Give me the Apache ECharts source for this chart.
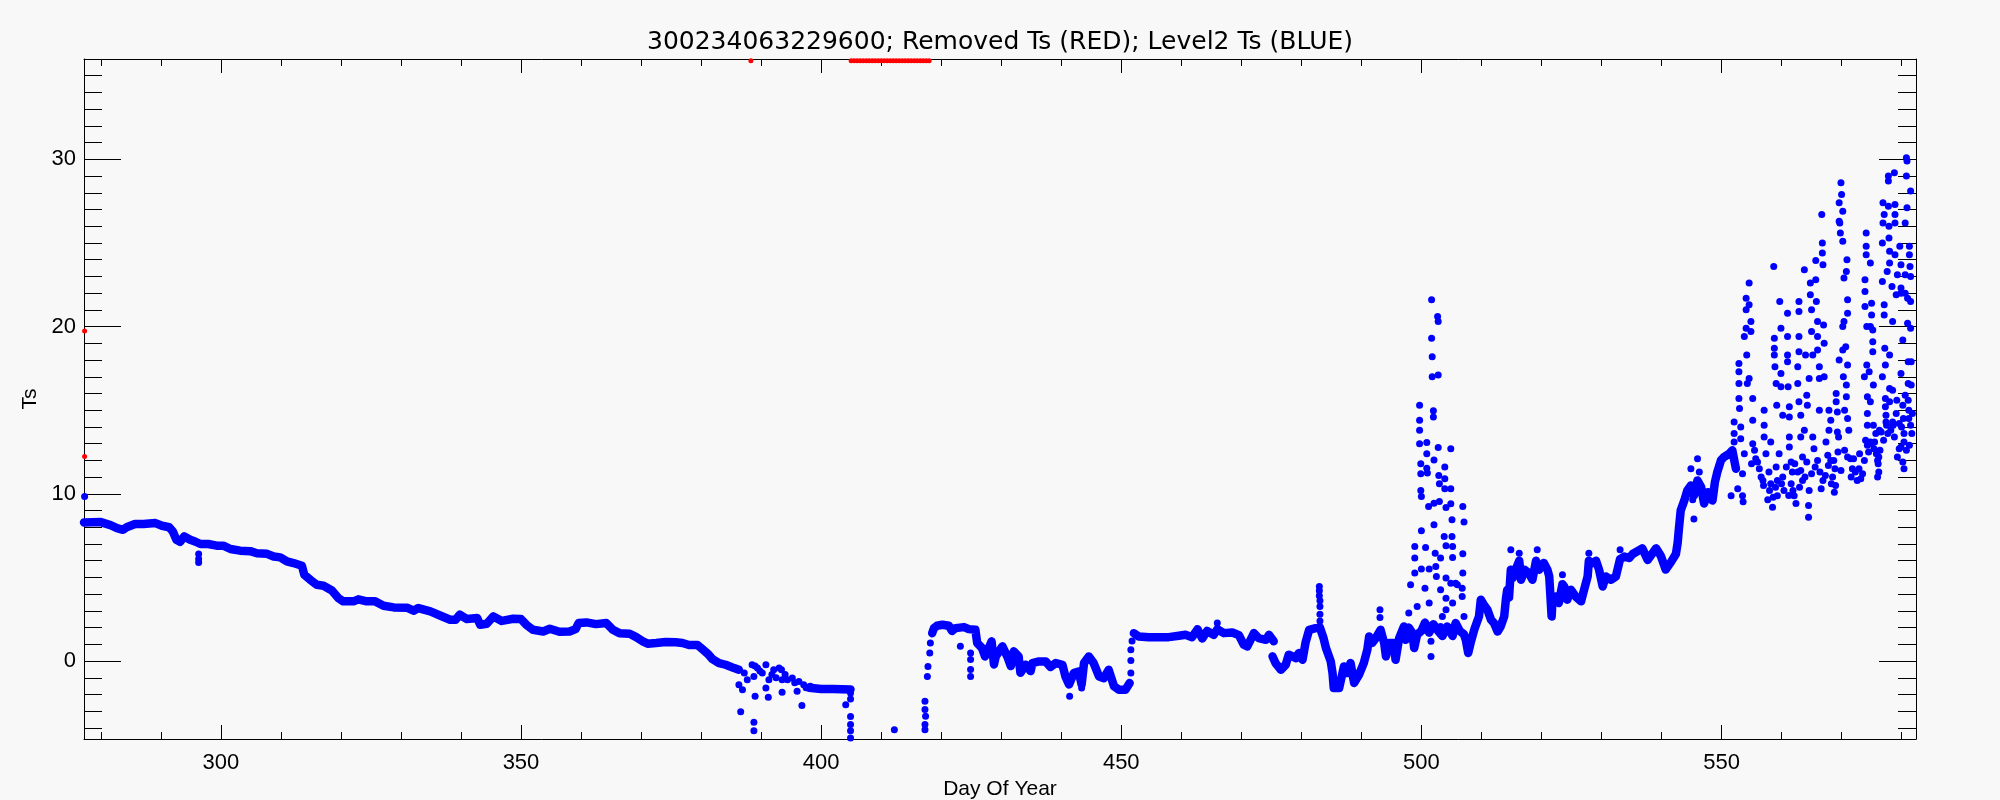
<!DOCTYPE html>
<html>
<head>
<meta charset="utf-8">
<script src="https://cdn.jsdelivr.net/npm/echarts@6/dist/echarts.min.js"></script>
<style>
html,body{margin:0;padding:0;background:#f8f8f8;}
#chart{width:2000px;height:800px;}
</style>
</head>
<body>
<div id="chart"></div>
<script>
// ---------------- DATA ----------------
const titleText = '300234063229600; Removed Ts (RED); Level2 Ts (BLUE)';
const xName = 'Day Of Year';
const yName = 'Ts';
const xMin = 277.2, xMax = 582.4;
const yMin = -4.66, yMax = 36;
const xMajorTicks = [300, 350, 400, 450, 500, 550];
const xMinorTicks = [280, 290, 300, 310, 320, 330, 340, 350, 360, 370, 380, 390, 400, 410, 420, 430, 440, 450, 460, 470, 480, 490, 500, 510, 520, 530, 540, 550, 560, 570, 580];
const yMajorTicks = [0, 10, 20, 30];
const yMinorTicks = [-4, -3, -2, -1, 0, 1, 2, 3, 4, 5, 6, 7, 8, 9, 10, 11, 12, 13, 14, 15, 16, 17, 18, 19, 20, 21, 22, 23, 24, 25, 26, 27, 28, 29, 30, 31, 32, 33, 34, 35, 36];

// dense Level2 trace, [day, Ts]
const traceSegment1 = [[277.2,8.29],[280.0,8.31],[281.6,8.13],[282.7,7.95],[283.7,7.85],[284.3,8.0],[285.7,8.2],[287.1,8.2],[289.1,8.25],[290.2,8.09],[291.4,8.0],[292.0,7.75],[292.6,7.25],[293.2,7.13],[293.9,7.45],[294.9,7.25],[295.7,7.15],[296.6,7.0],[297.9,7.0],[299.3,6.9],[300.4,6.9],[301.6,6.7],[303.2,6.6],[304.9,6.57],[306.0,6.45],[307.7,6.41],[308.8,6.25],[309.9,6.2],[311.0,5.96],[312.1,5.86],[313.5,5.7],[313.9,5.16],[314.9,4.86],[316.0,4.56],[317.1,4.5],[318.5,4.22],[319.6,3.76],[320.4,3.57],[322.1,3.57],[322.9,3.69],[324.3,3.57],[325.7,3.57],[327.1,3.31],[328.8,3.21],[331.0,3.19],[332.1,3.01],[332.9,3.17],[334.9,2.97],[336.6,2.71],[338.2,2.47],[339.1,2.47],[339.8,2.77],[341.0,2.51],[342.7,2.57],[343.2,2.17],[344.3,2.23],[345.4,2.67],[346.8,2.4],[348.7,2.53],[350.0,2.51],[350.9,2.17],[352.0,1.87],[353.7,1.77],[354.8,1.93],[356.4,1.75],[358.1,1.77],[359.1,1.91],[359.6,2.27],[360.9,2.31],[362.5,2.21],[364.2,2.27],[365.3,1.87],[366.4,1.67],[368.1,1.63],[369.2,1.43],[370.3,1.18],[371.1,1.04],[372.5,1.08],[374.1,1.14],[375.8,1.12],[376.9,1.08],[378.0,0.96],[379.4,0.96],[380.2,0.72],[381.1,0.44],[381.9,0.12],[383.0,-0.12],[384.1,-0.22],[385.5,-0.42],[386.3,-0.52]];
const traceSegment2 = [[398.0,-1.6],[400.0,-1.67],[402.0,-1.67],[404.9,-1.7]];
const traceSegment3 = [[418.5,1.67],[418.8,1.97],[419.3,2.11],[420.2,2.17],[421.3,2.11],[421.8,1.8],[422.4,1.97],[423.8,2.03],[424.6,1.91],[425.7,1.87],[426.0,1.08],[426.8,0.78],[427.3,0.28],[427.7,0.58],[428.4,1.18],[428.8,-0.2],[429.1,0.28],[430.2,0.88],[431.0,0.28],[431.6,-0.3],[432.1,0.58],[432.9,0.28],[433.2,-0.7],[434.1,-0.22],[434.9,-0.6],[435.2,-0.12],[436.3,-0.02],[437.4,-0.02],[438.2,-0.35],[439.1,-0.12],[440.2,-0.22],[440.7,-0.92],[441.3,-1.4],[442.1,-0.72],[442.9,-0.62],[443.4,-1.4],[443.8,-0.12],[444.6,0.28],[445.4,-0.12],[446.3,-0.92],[447.1,-1.02],[447.9,-0.52],[448.8,-1.51],[449.6,-1.71],[450.7,-1.71],[451.4,-1.31]];
const traceSegment4 = [[452.1,1.67],[452.9,1.47],[454.6,1.43],[456.3,1.43],[457.9,1.43],[459.6,1.51],[460.7,1.57],[461.8,1.43],[462.7,1.9],[463.5,1.35],[464.3,1.8],[465.4,1.57],[466.0,1.9],[467.1,1.67],[468.5,1.71],[469.6,1.55],[470.4,0.98],[471.0,0.88],[472.1,1.67],[472.9,1.37],[474.1,1.27],[474.6,1.57],[475.4,1.18]];
const traceSegment5 = [[475.2,0.28],[475.7,-0.12],[476.6,-0.52],[477.4,-0.22],[477.9,0.38],[479.1,0.18],[479.6,0.48],[480.2,0.08],[480.7,1.1],[481.3,1.87],[482.4,1.97],[483.1,2.0],[483.7,1.37],[484.1,0.78],[484.9,-0.02],[485.2,-0.72],[485.4,-1.61],[486.3,-1.61],[487.1,-0.32],[487.7,-0.72],[488.2,-0.12],[488.8,-1.31],[489.6,-0.82],[490.4,-0.12],[491.0,0.68],[491.3,1.47],[491.8,1.08],[492.4,1.37],[493.2,1.87],[493.8,1.08],[494.1,0.28],[494.6,1.08],[495.4,1.08],[495.7,0.08],[496.3,1.37],[497.1,2.07],[497.4,1.27],[497.9,2.0],[498.5,1.67],[498.8,0.78],[499.3,1.6],[500.0,1.8],[500.6,2.3],[501.3,1.7],[502.0,2.2],[502.8,1.8],[503.5,1.5],[504.3,2.07],[505.2,1.5],[505.7,2.27],[506.4,1.8],[507.1,1.6],[507.4,1.27],[507.8,0.48],[508.2,1.08],[508.8,1.87],[509.6,2.67],[509.9,3.67],[510.4,3.37],[511.0,3.07],[511.6,2.47],[512.1,2.27],[512.7,1.77],[513.2,2.07],[513.8,2.67],[514.1,3.76],[514.3,4.26],[514.6,3.8],[514.9,5.46],[515.2,4.96],[515.7,5.46],[516.3,6.0],[516.6,4.86],[517.2,5.46],[517.9,5.26],[518.5,4.86],[519.1,6.0],[519.6,5.46],[520.4,5.86],[521.0,5.46],[521.3,5.06],[521.7,2.67],[521.8,3.37],[522.4,3.86],[522.9,3.47],[523.5,4.6],[523.8,4.46],[524.3,3.67],[524.9,4.26],[525.7,3.86],[526.6,3.57],[527.1,4.26],[527.7,5.06],[527.9,6.0],[528.5,5.86],[529.1,6.0],[529.6,5.46],[530.2,4.46],[530.7,5.06],[531.6,4.86],[532.4,5.06],[533.1,6.1],[533.8,6.25],[534.6,6.16],[535.2,6.4],[536.8,6.74],[537.7,6.05],[539.1,6.74],[539.9,6.28],[540.7,5.47],[541.6,5.93],[542.4,6.4],[542.7,7.09],[542.9,7.9],[543.2,9.0],[543.8,9.6],[544.3,10.2],[544.9,10.5],[545.4,9.9],[546.0,10.8],[546.6,10.4],[547.1,9.42],[547.7,10.1],[548.5,9.6],[548.9,10.7],[549.3,11.3],[549.9,12.0],[550.4,12.2],[551.3,12.4],[551.8,12.6],[552.4,11.5]];

// scattered Level2 points, [day, Ts]
const level2Early = [[277.3,9.84],[296.3,6.4],[296.3,6.1],[296.3,5.9],
 [386.3,-1.41],[386.9,-1.71],[387.2,-0.72],[387.7,-1.12],[388.5,-0.22],[388.8,-0.92],[389.0,-0.3],[389.4,-0.42],[389.8,-0.6],[390.2,-0.72],[390.8,-0.22],[390.8,-1.61],[391.3,-1.12],[391.8,-0.8],[392.1,-0.52],[392.5,-1.0],[393.0,-0.42],[393.4,-0.52],[393.5,-1.12],[393.5,-1.87],[394.0,-0.8],[394.4,-1.12],[395.2,-1.02],[395.6,-1.3],[396.0,-1.81],[396.3,-1.22],[396.8,-2.65],[397.1,-1.41],[397.5,-1.6],[398.2,-1.51],
 [386.6,-3.03],[388.8,-3.66],[388.8,-4.16],[389.0,-2.11],[391.2,-2.17],
 [404.9,-1.91],[404.9,-2.27],[404.1,-2.61],[404.9,-3.31],[404.9,-3.80],[404.9,-4.16],[404.9,-4.6],[412.2,-4.1],
 [417.3,-2.41],[417.3,-2.9],[417.4,-3.3],[417.3,-3.8],[417.3,-4.1],[417.7,-0.92],[417.8,-0.32],[418.1,0.48],[418.2,1.08],
 [423.2,0.88],[424.9,0.48],[424.9,0.1],[424.9,-0.5],[424.9,-0.92],[441.4,-2.11],[443.4,-1.61],[451.6,-0.72],[451.6,0.04],[451.6,0.68],[451.8,1.2],[466.0,2.27],
 [483.0,4.46],[483.0,4.2],[483.0,3.9],[483.1,3.6],[483.1,3.27],[483.1,2.8],[483.1,2.4],[493.1,3.07],[493.1,2.6]];
const level2Spike = [[497.9,2.87],[498.2,4.56],[498.9,6.16],[498.9,5.26],[498.9,6.85],[499.3,3.27],[499.7,15.3],[499.7,14.4],[499.7,13.8],[499.7,13.0],[499.9,11.8],[499.9,11.2],[499.9,10.2],[500.0,9.84],[500.0,7.79],[500.0,5.5],[500.6,4.36],[500.7,6.79],[500.9,13.07],[500.9,12.39],[500.9,11.53],[501.0,11.24],[501.2,9.24],[501.3,5.5],[501.3,3.47],[501.6,0.28],[501.6,1.18],[501.7,21.6],[501.7,19.3],[501.8,18.2],[501.8,17.0],[502.0,14.96],[502.0,14.6],[502.1,12.03],[502.1,9.44],[502.1,8.15],[502.3,6.45],[502.4,5.66],[502.5,5.06],[502.7,20.6],[502.8,20.3],[502.8,17.1],[502.8,12.77],[502.9,11.1],[503.0,10.6],[503.0,9.54],[503.2,6.16],[503.2,4.26],[503.2,2.07],[503.5,2.67],[503.8,7.45],[503.9,11.6],[503.9,10.9],[503.9,10.3],[504.1,9.18],[504.1,6.89],[504.1,4.96],[504.1,3.76],[504.1,3.07],[504.9,12.7],[504.9,10.3],[504.9,9.4],[505.1,8.45],[505.1,7.45],[505.2,6.85],[505.2,6.2],[504.9,4.66],[505.2,3.47],[505.7,4.66],[506.0,4.56],[505.7,2.27],[506.8,4.36],[506.8,3.86],[506.9,5.26],[506.9,6.41],[506.9,9.24],[507.1,8.31],[507.1,2.67],
 [514.9,6.65],[516.3,6.45],[519.3,6.65],[523.5,5.16],[527.9,6.45],[533.1,6.65],
 [544.9,11.5],[545.2,9.65],[545.4,8.49],[546.0,12.1],[546.3,11.3],[548.2,10.0],[551.6,9.88]];
const level2Late = [[552.1,14.3],[552.1,13.6],[552.1,13.1],[552.7,10.3],[552.9,17.8],[552.9,17.3],[552.9,16.6],[552.9,15.7],[553.0,15.1],[553.2,14.0],[553.2,13.3],[553.5,9.88],[553.5,11.2],[553.6,9.53],[553.8,19.4],[553.8,12.4],[554.1,21.7],[554.1,21.0],[554.1,19.9],[554.2,18.3],[554.3,16.6],[554.6,22.6],[554.6,21.3],[554.6,16.9],[554.9,20.3],[554.9,19.7],[555.2,15.7],[555.2,14.4],[555.2,13.0],[555.7,12.1],[556.3,11.5],[556.9,10.8],[557.1,15.0],[557.1,14.1],[557.1,13.4],[557.4,12.4],[557.7,9.65],[557.9,11.3],[558.2,13.1],[558.2,10.6],[558.5,9.19],[558.7,23.6],[558.8,19.3],[558.8,18.7],[558.8,18.3],[558.9,17.6],[559.1,16.6],[559.2,15.3],[559.1,11.6],[559.3,10.8],[559.3,9.88],[559.6,12.4],[559.7,21.5],[559.9,19.9],[559.9,17.2],[559.9,16.4],[560.2,14.7],[560.2,11.0],[560.4,10.2],[561.0,20.8],[561.0,19.4],[561.0,18.3],[561.0,17.9],[561.1,16.4],[561.3,15.2],[561.3,14.6],[561.3,13.4],[561.3,12.8],[561.6,11.9],[561.6,10.6],[561.8,11.3],[562.1,9.88],[562.4,9.42],[562.7,11.3],[562.7,17.6],[562.7,16.6],[562.9,21.5],[562.9,20.9],[562.9,19.4],[562.9,18.5],[562.9,15.5],[563.2,14.7],[563.2,13.4],[563.2,11.4],[563.5,12.2],[563.5,10.8],[563.8,23.4],[563.8,13.8],[564.0,18.3],[564.2,15.9],[564.3,15.3],[564.6,10.2],[564.5,9.3],[564.5,8.6],[564.6,16.9],[564.8,22.6],[564.8,21.9],[565.0,21.0],[565.0,19.7],[565.2,18.3],[565.2,13.4],[565.4,12.7],[565.7,22.8],[565.7,23.95],[565.8,21.5],[566.0,20.3],[566.0,19.4],[566.0,18.6],[566.3,17.6],[566.3,16.9],[566.3,15.0],[566.4,11.3],[566.6,10.3],[566.7,26.7],[566.8,25.0],[566.8,24.4],[566.9,23.7],[567.0,20.1],[567.1,19.0],[567.1,17.0],[567.4,13.1],[567.7,12.3],[567.9,15.0],[567.9,13.8],[568.2,14.4],[568.2,12.0],[568.5,11.0],[568.8,10.1],[568.9,11.5],[569.1,16.0],[569.1,15.5],[569.3,14.9],[569.3,13.7],[569.5,13.4],[569.6,18.0],[569.6,26.3],[569.6,27.4],[569.7,26.2],[569.8,25.6],[569.9,28.6],[570.0,27.9],[570.2,26.9],[570.2,25.1],[570.2,20.0],[570.2,18.6],[570.3,17.0],[570.4,22.9],[570.4,20.3],[570.5,15.0],[570.7,18.8],[570.8,23.3],[570.9,24.0],[570.8,16.5],[570.8,15.8],[571.0,21.6],[571.0,20.8],[571.0,17.7],[571.0,14.5],[571.2,13.8],[571.5,12.1],[571.8,11.5],[572.3,11.3],[572.9,11.5],[573.2,10.9],[573.8,12.0],[573.8,17.0],[573.9,22.8],[573.9,22.1],[573.9,21.2],[574.1,25.6],[574.1,24.8],[574.1,24.3],[574.2,20.0],[574.2,17.7],[574.3,15.8],[574.3,14.8],[574.3,14.1],[574.3,12.9],[574.6,17.3],[574.8,23.8],[574.8,20.0],[574.8,15.5],[574.8,13.1],[575.0,21.4],[575.0,20.7],[575.2,19.8],[575.2,19.1],[575.2,18.5],[575.3,16.5],[575.3,14.1],[575.4,12.7],[575.7,13.6],[576.0,12.0],[576.2,11.3],[576.3,13.8],[576.6,13.7],[576.8,17.0],[576.8,25.0],[576.8,22.7],[576.9,27.4],[576.9,26.2],[577.1,26.7],[577.1,21.3],[577.1,20.7],[577.2,18.7],[577.3,17.7],[577.3,15.7],[577.3,15.2],[577.4,14.7],[577.4,14.3],[577.5,14.1],[577.6,23.3],[577.8,28.7],[577.8,29.0],[577.8,27.2],[577.9,26.0],[577.9,25.3],[578.0,24.5],[578.0,23.8],[578.0,18.3],[578.0,16.3],[578.0,15.5],[578.4,22.4],[578.5,20.3],[578.5,16.2],[578.5,14.3],[578.6,14.1],[578.8,29.2],[578.9,27.3],[578.9,26.7],[578.9,26.2],[578.9,24.3],[579.1,21.9],[579.1,14.8],[579.2,15.6],[579.3,23.1],[579.6,12.7],[579.6,14.2],[579.7,24.8],[579.9,23.7],[579.9,22.3],[579.9,22.0],[579.9,17.2],[580.2,19.2],[580.2,15.3],[580.2,11.9],[580.3,14.5],[580.4,13.1],[580.4,11.5],[580.4,13.6],[580.6,15.9],[580.6,26.2],[580.6,23.1],[580.6,22.0],[580.8,29.0],[580.8,30.1],[580.9,29.9],[580.9,27.1],[581.0,21.7],[581.0,20.2],[581.1,17.9],[581.1,16.6],[581.1,15.6],[581.2,15.0],[581.2,14.5],[581.3,24.8],[581.3,24.3],[581.4,23.6],[581.5,28.1],[581.5,23.0],[581.5,21.5],[581.5,19.9],[581.5,14.1],[581.6,17.9],[581.6,16.5],[581.7,13.6]];
const level2LateBand = [[555.0,11.8],[555.5,12.6],[556.0,11.9],[556.6,11.0],[557.0,10.5],[558.0,10.2],[558.6,9.8],[559.0,10.4],[560.0,10.6],[560.8,11.6],[561.2,9.9],[561.9,10.2],[562.2,11.8],[563.0,10.4],[563.9,11.0],[564.2,11.9],[565.0,11.2],[565.6,11.6],[566.0,12.0],[566.9,10.8],[567.3,11.1],[567.8,11.7],[568.3,10.6],[568.7,12.0],[569.0,10.5],[569.4,12.5],[569.9,11.4],[570.5,12.6],[571.0,12.2],[571.6,11.0],[572.0,12.1],[572.6,10.8],[573.0,12.4],[573.5,11.2],[574.0,13.2],[574.5,12.5],[575.0,13.0],[575.5,13.1],[575.8,12.4],[576.0,11.0],[576.1,11.8],[576.2,12.2],[576.4,12.6],[577.0,13.2],[577.7,13.6],[578.2,13.8],[578.8,13.4],[579.3,12.2],[579.9,12.8],[580.0,14.0],[580.8,12.6],[581.3,12.9],[581.8,14.8]];

// removed points (RED), [day, Ts]
const removedPoints = [[277.3,19.74],[277.3,12.23],[388.3,35.9],[405.0,35.9],[405.5,35.9],[406.0,35.9],[406.5,35.9],[407.0,35.9],[407.5,35.9],[408.0,35.9],[408.5,35.9],[409.0,35.9],[409.5,35.9],[410.0,35.9],[410.5,35.9],[411.0,35.9],[411.5,35.9],[412.0,35.9],[412.5,35.9],[413.0,35.9],[413.5,35.9],[414.0,35.9],[414.5,35.9],[415.0,35.9],[415.5,35.9],[416.0,35.9],[416.5,35.9],[417.0,35.9],[417.5,35.9],[418.0,35.9]];

// ---------------- CHART ----------------
const BLUE = '#0000ff', RED = '#ff0000', INK = '#000000';
const FONT = 'Liberation Sans';

function xAxisDef(position, ticks, len, labels, line) {
  return {
    type: 'value', position: position, min: xMin, max: xMax,
    axisLine: { show: line, onZero: false, lineStyle: { color: INK, width: 1 } },
    axisTick: { show: true, inside: true, length: len, customValues: ticks, lineStyle: { color: INK, width: 1 } },
    axisLabel: labels ? { show: true, customValues: ticks, margin: 13, color: INK, fontFamily: FONT, fontSize: 22 } : { show: false },
    splitLine: { show: false }, minorTick: { show: false }
  };
}
function yAxisDef(position, ticks, len, labels, line) {
  return {
    type: 'value', position: position, min: yMin, max: yMax,
    axisLine: { show: line, onZero: false, lineStyle: { color: INK, width: 1 } },
    axisTick: { show: true, inside: true, length: len, customValues: ticks, lineStyle: { color: INK, width: 1 } },
    axisLabel: labels ? { show: true, customValues: ticks, margin: 8, color: INK, fontFamily: FONT, fontSize: 22 } : { show: false },
    splitLine: { show: false }, minorTick: { show: false }
  };
}

const xAxes = [
  Object.assign(xAxisDef('bottom', xMajorTicks, 14, true, true), {
    name: xName, nameLocation: 'middle', nameGap: 39,
    nameTextStyle: { color: INK, fontFamily: FONT, fontSize: 21 }
  }),
  xAxisDef('bottom', xMinorTicks, 7, false, false),
  xAxisDef('top', xMajorTicks, 14, false, true),
  xAxisDef('top', xMinorTicks, 7, false, false)
];
const yAxes = [
  Object.assign(yAxisDef('left', yMajorTicks, 37, true, true), {
    name: yName, nameLocation: 'middle', nameGap: 43, nameRotate: 90,
    nameTextStyle: { color: INK, fontFamily: FONT, fontSize: 21 }
  }),
  yAxisDef('left', yMinorTicks, 18, false, false),
  yAxisDef('right', yMajorTicks, 37, false, true),
  yAxisDef('right', yMinorTicks, 18, false, false)
];

const traceSegments = [traceSegment1, traceSegment2, traceSegment3, traceSegment4, traceSegment5];
const series = traceSegments.map(seg => ({
  type: 'line', data: seg, xAxisIndex: 0, yAxisIndex: 0,
  showSymbol: false, symbol: 'none', silent: true,
  lineStyle: { color: BLUE, width: 8.5, cap: 'round', join: 'round', opacity: 1 }
}));
[level2Early, level2Spike, level2Late, level2LateBand].forEach(pts => {
  series.push({
    type: 'scatter', data: pts, xAxisIndex: 0, yAxisIndex: 0,
    symbol: 'circle', symbolSize: 7, silent: true,
    itemStyle: { color: BLUE, opacity: 1 }
  });
});
series.push({
  type: 'scatter', data: removedPoints, xAxisIndex: 0, yAxisIndex: 0,
  symbol: 'circle', symbolSize: 5, silent: true, itemStyle: { color: RED, opacity: 1 }
});

const chart = echarts.init(document.getElementById('chart'), null, { renderer: 'canvas' });
chart.setOption({
  animation: false,
  backgroundColor: '#f8f8f8',
  title: {
    text: titleText, left: 'center', top: 25,
    textStyle: { color: INK, fontFamily: 'DejaVu Sans', fontSize: 25, fontWeight: 'normal' }
  },
  grid: { left: 84, right: 84, top: 59, bottom: 61, containLabel: false, outerBoundsMode: 'none' },
  xAxis: xAxes,
  yAxis: yAxes,
  series: series
});
</script>
</body>
</html>
